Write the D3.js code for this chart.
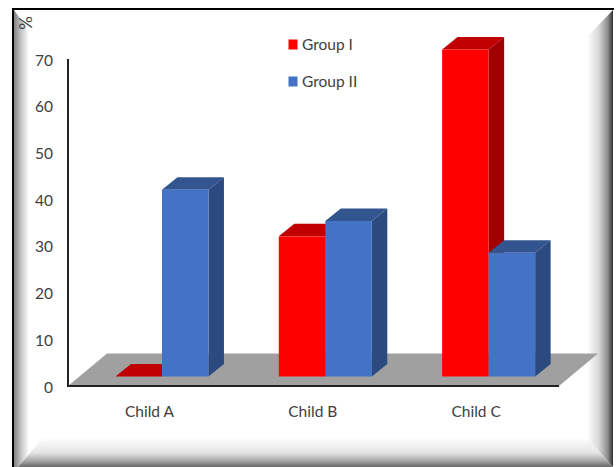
<!DOCTYPE html>
<html><head><meta charset="utf-8">
<script src="https://cdn.jsdelivr.net/npm/d3@7"></script>
<style>html,body{margin:0;padding:0;background:#fff}svg{display:block}text{font-family:Lato,sans-serif;fill:#404040}</style>
</head><body><div id="c"></div>
<script>
const categories = ["Child A","Child B","Child C"];
const seriesNames = ["Group I","Group II"];
const groupI = [0,30,70];
const groupII = [40,33.3,26.5];
const yTicks = [0,10,20,30,40,50,60,70];
const colors = {
  "Group I": {front:"#ff0000",side:"#a00000",top:"#c00000"},
  "Group II":{front:"#4472c4",side:"#2b4a80",top:"#33558f"}
};
const W=616,H=467;
const svg=d3.select("#c").append("svg").attr("width",W).attr("height",H);
const defs=svg.append("defs");
function grad(id,x1,y1,x2,y2,stops){
  const g=defs.append("linearGradient").attr("id",id).attr("gradientUnits","userSpaceOnUse")
    .attr("x1",x1).attr("y1",y1).attr("x2",x2).attr("y2",y2);
  stops.forEach(s=>g.append("stop").attr("offset",s[0]).attr("stop-color",s[1]));
}
grad("gl",14,0,29,0,[[0,"#808080"],[.5,"#c8c8c8"],[1,"#ffffff"]]);
grad("gr",587,0,613,0,[[0,"#ffffff"],[.45,"#d8d8d8"],[.8,"#8c8c8c"],[1,"#303030"]]);
grad("gb",0,437,0,466,[[0,"#ffffff"],[.55,"#e4e4e4"],[.85,"#a0a0a0"],[1,"#707070"]]);
const line=d3.line();
svg.append("rect").attr("x",13).attr("y",9).attr("width",600).attr("height",470).attr("fill","#fff");
svg.append("path").attr("d",line([[14,10],[29,31],[29,438],[43,438],[18,467],[14,467]])).attr("fill","url(#gl)");
svg.append("path").attr("d",line([[613,10],[587,37],[587,438],[613,467]])).attr("fill","url(#gr)");
svg.append("path").attr("d",line([[43,438],[587,438],[613,467],[18,467]])).attr("fill","url(#gb)");
svg.append("path").attr("d",line([[13,467],[13,9],[614,9]])).attr("fill","none").attr("stroke","#000").attr("stroke-width",2);

const dx=15.5,dy=12.5,frontDrop=9.5;
const y=d3.scaleLinear().domain([0,70]).range([386,59]);
const x=d3.scaleBand().domain(categories).range([80.3,570.3]);
const x1=d3.scaleBand().domain(seriesNames).range([x.bandwidth()/2-46.5,x.bandwidth()/2+46.5]);

svg.append("path").attr("d",line([[68,386],[107,353.5],[598,353.5],[559,386]])).attr("fill","#a0a0a0");
svg.append("path").attr("d",line([[68,59],[68,386],[559,386]])).attr("fill","none").attr("stroke","#222").attr("stroke-width",2);

svg.selectAll("text.yt").data(yTicks).join("text").attr("class","yt")
  .attr("x",53).attr("y",d=>y(d)+6.5).attr("text-anchor","end").attr("font-size",15.5).text(d=>d);
svg.append("text").attr("transform","translate(26,23) rotate(-90)").attr("text-anchor","middle")
  .attr("dy","0.35em").attr("font-size",17).text("%");

const rows=[];
seriesNames.forEach((s,si)=>{
  const vals=si===0?groupI:groupII;
  categories.forEach((c,i)=>rows.push({s,c,v:vals[i]}));
});
rows.forEach(d=>{
  const col=colors[d.s];
  const x0=x(d.c)+x1(d.s), x2=x0+x1.bandwidth();
  const b=y(0)-frontDrop, t=y(d.v)-frontDrop;
  const g=svg.append("g");
  g.append("path").attr("d",line([[x0,t],[x0+dx,t-dy],[x2+dx,t-dy],[x2,t]])+"Z").attr("fill",col.top);
  if(d.v>0){
    g.append("path").attr("d",line([[x2,t],[x2+dx,t-dy],[x2+dx,b-dy],[x2,b]])+"Z").attr("fill",col.side);
    g.append("rect").attr("x",x0).attr("y",t).attr("width",x2-x0).attr("height",b-t).attr("fill",col.front);
  }
});

svg.selectAll("text.xt").data(categories).join("text").attr("class","xt")
  .attr("x",d=>x(d)+x.bandwidth()/2-12.5).attr("y",416.5).attr("text-anchor","middle").attr("font-size",15.5).text(d=>d);

const ly=d3.scalePoint().domain(seriesNames).range([44,81]);
seriesNames.forEach(s=>{
  svg.append("rect").attr("x",288.5).attr("y",ly(s)-4.5).attr("width",9).attr("height",10).attr("fill",colors[s].front);
  svg.append("text").attr("x",302).attr("y",ly(s)+5.5).attr("font-size",15.5).text(s);
});
</script></body></html>
